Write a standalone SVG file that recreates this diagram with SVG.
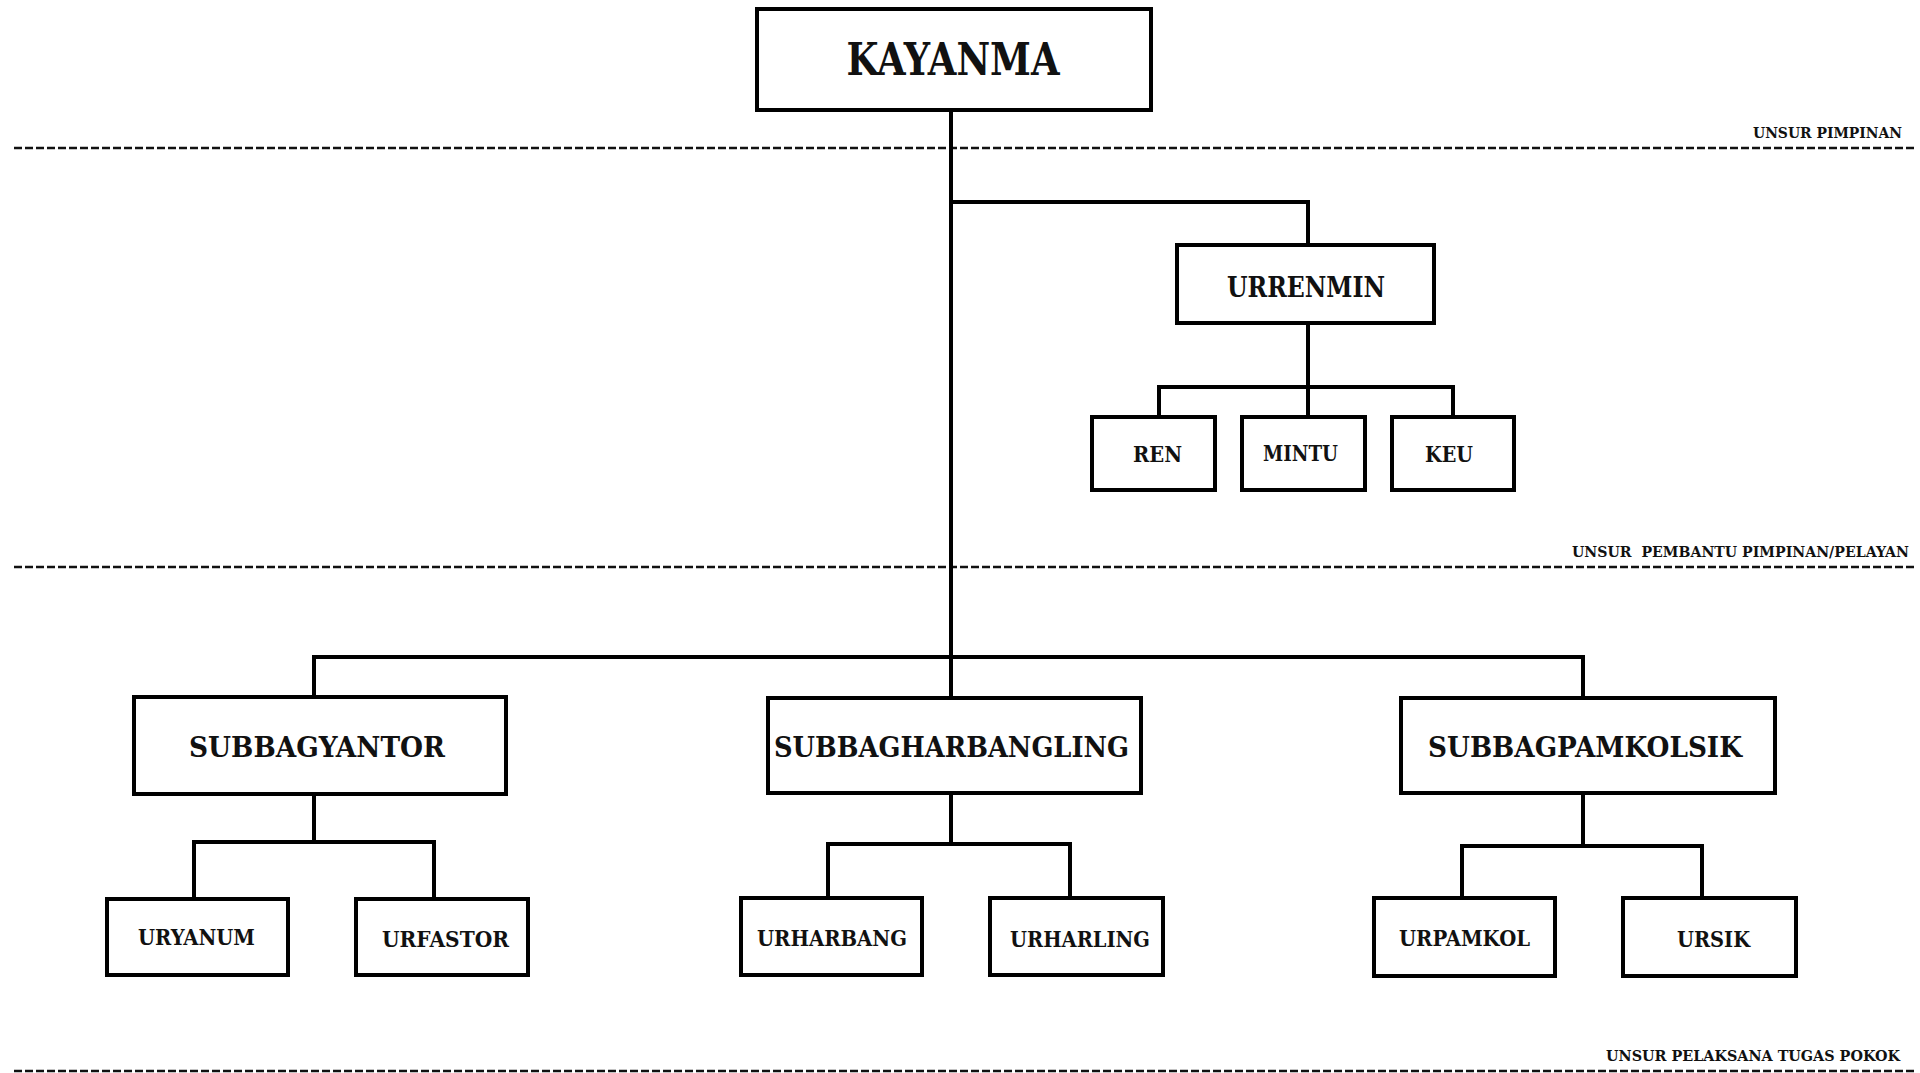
<svg xmlns="http://www.w3.org/2000/svg" width="1920" height="1073" viewBox="0 0 1920 1073">
<style>
.box{fill:#fff;stroke:#000;stroke-width:4}
.con{fill:none;stroke:#000;stroke-width:4;stroke-linejoin:miter;stroke-linecap:square}
.dash{fill:none;stroke:#111;stroke-width:2.5;stroke-dasharray:8 3}
text{font-family:"DejaVu Serif","Liberation Serif",serif;font-weight:bold;fill:#111;text-anchor:middle}
.t1{font-size:44px}
.t2{font-size:28px}
.t3{font-size:23px}
.lab{font-size:15px;text-anchor:end;white-space:pre}
</style>
<rect width="1920" height="1073" fill="#fff"/>
<g id="separators">
<line class="dash" x1="14" y1="148" x2="1916" y2="148"/>
<line class="dash" x1="14" y1="567" x2="1916" y2="567"/>
<line class="dash" x1="14" y1="1071" x2="1916" y2="1071"/>
<text class="lab" x="1902" y="138" textLength="149" lengthAdjust="spacingAndGlyphs">UNSUR PIMPINAN</text>
<text class="lab" x="1909" y="557" textLength="337" lengthAdjust="spacingAndGlyphs" style="font-size:14px">UNSUR&#160; PEMBANTU PIMPINAN/PELAYAN</text>
<text class="lab" x="1900" y="1061" textLength="294" lengthAdjust="spacingAndGlyphs">UNSUR PELAKSANA TUGAS POKOK</text>
</g>
<g id="connectors">
<path class="con" d="M951 112 V657"/>
<path class="con" d="M951 202 H1308 V243"/>
<path class="con" d="M1308 325 V415"/>
<path class="con" d="M1159 415 V387 H1453 V415"/>
<path class="con" d="M314 695 V657 H1583 V696"/>
<path class="con" d="M951 657 V696"/>
<path class="con" d="M314 796 V842"/>
<path class="con" d="M194 897 V842 H434 V897"/>
<path class="con" d="M951 795 V844"/>
<path class="con" d="M828 896 V844 H1070 V896"/>
<path class="con" d="M1583 795 V846"/>
<path class="con" d="M1462 896 V846 H1702 V896"/>
</g>
<g id="kayanma"><rect class="box" x="757" y="9" width="394" height="101"/><text class="t1" x="953" y="75" textLength="213" lengthAdjust="spacingAndGlyphs">KAYANMA</text></g>
<g id="urrenmin"><rect class="box" x="1177" y="245" width="257" height="78"/><text class="t2" x="1306" y="297" textLength="158" lengthAdjust="spacingAndGlyphs">URRENMIN</text></g>
<g id="ren"><rect class="box" x="1092" y="417" width="123" height="73"/><text class="t3" x="1157.5" y="462" textLength="49" lengthAdjust="spacingAndGlyphs">REN</text></g>
<g id="mintu"><rect class="box" x="1242" y="417" width="123" height="73"/><text class="t3" x="1300.5" y="461" textLength="75" lengthAdjust="spacingAndGlyphs">MINTU</text></g>
<g id="keu"><rect class="box" x="1392" y="417" width="122" height="73"/><text class="t3" x="1449" y="462" textLength="48" lengthAdjust="spacingAndGlyphs">KEU</text></g>
<g id="subbagyantor"><rect class="box" x="134" y="697" width="372" height="97"/><text class="t2" x="317" y="757" textLength="256" lengthAdjust="spacingAndGlyphs">SUBBAGYANTOR</text></g>
<g id="subbagharbangling"><rect class="box" x="768" y="698" width="373" height="95"/><text class="t2" x="951.5" y="757" textLength="355" lengthAdjust="spacingAndGlyphs">SUBBAGHARBANGLING</text></g>
<g id="subbagpamkolsik"><rect class="box" x="1401" y="698" width="374" height="95"/><text class="t2" x="1585" y="757" textLength="314" lengthAdjust="spacingAndGlyphs">SUBBAGPAMKOLSIK</text></g>
<g id="uryanum"><rect class="box" x="107" y="899" width="181" height="76"/><text class="t3" x="196.5" y="945" textLength="117" lengthAdjust="spacingAndGlyphs">URYANUM</text></g>
<g id="urfastor"><rect class="box" x="356" y="899" width="172" height="76"/><text class="t3" x="445.5" y="947" textLength="127" lengthAdjust="spacingAndGlyphs">URFASTOR</text></g>
<g id="urharbang"><rect class="box" x="741" y="898" width="181" height="77"/><text class="t3" x="832" y="946" textLength="150" lengthAdjust="spacingAndGlyphs">URHARBANG</text></g>
<g id="urharling"><rect class="box" x="990" y="898" width="173" height="77"/><text class="t3" x="1080" y="947" textLength="140" lengthAdjust="spacingAndGlyphs">URHARLING</text></g>
<g id="urpamkol"><rect class="box" x="1374" y="898" width="181" height="78"/><text class="t3" x="1464.5" y="946" textLength="131" lengthAdjust="spacingAndGlyphs">URPAMKOL</text></g>
<g id="ursik"><rect class="box" x="1623" y="898" width="173" height="78"/><text class="t3" x="1713.5" y="947" textLength="73" lengthAdjust="spacingAndGlyphs">URSIK</text></g>
</svg>
